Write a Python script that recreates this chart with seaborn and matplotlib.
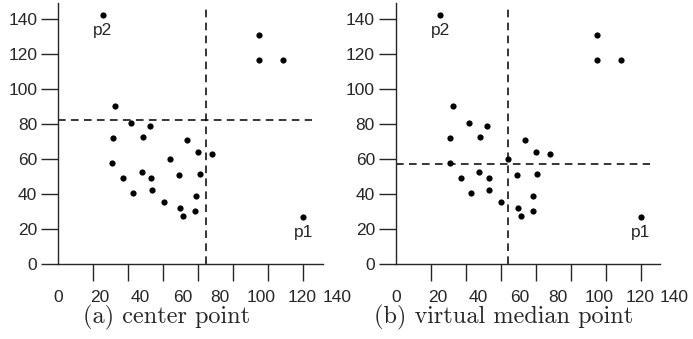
import numpy as np
import matplotlib
matplotlib.use("Agg")
import matplotlib.pyplot as plt
import seaborn as sns

# point cloud (same in both panels)
xs = [21.8, 98.9, 98.9, 110.7, 27.9, 35.8, 45.0, 26.8, 41.5, 63.5, 68.9, 75.6, 54.9, 26.6,
      32.0, 41.0, 45.7, 59.5, 69.6, 36.9, 45.9, 51.8, 67.6, 59.9, 61.3, 67.2, 120.5]
ys = [142.3, 130.9, 116.6, 116.6, 90.3, 80.4, 79.0, 71.8, 72.8, 70.9, 64.2, 62.7, 60.0, 57.5,
      49.3, 52.8, 49.0, 50.7, 51.6, 40.4, 42.3, 35.2, 39.0, 32.0, 27.2, 30.3, 26.9]

# named points
p_names = ["p1", "p2"]
p_x = [120.5, 21.8]
p_y = [26.9, 142.3]

# split lines: (a) center point, (b) virtual median point
split_x = [72.5, 54.9]
split_y = [82.3, 57.4]
captions = ["(a) center point", "(b) virtual median point"]

# axis labelling (as printed in the original figure)
yticks = [0, 20, 40, 60, 80, 100, 120, 140]
xtick_labels = ["0", "20", "40", "60", "80", "100", "120", "140"]
xtick_label_pos = [0, 20.5, 40.5, 61, 79.5, 100, 120, 137]
xtick_mark_pos = np.linspace(0, 120.5, 8)

sns.set_style("ticks")
plt.rcParams["font.family"] = ["Liberation Sans", "DejaVu Sans"]

fig = plt.figure(figsize=(6.93, 3.39), dpi=100)
lefts = [58.3, 396.0]
axes = [fig.add_axes([l / 693, 75 / 339, 140 * 2.033 / 693, 149 * 1.75 / 339]) for l in lefts]

for i, ax in enumerate(axes):
    ax.patch.set_alpha(0)
    sns.scatterplot(x=xs, y=ys, ax=ax, color="black", s=20, linewidth=0, zorder=3)
    ax.vlines(split_x[i], 0, 145.5, colors="black", linewidth=1.1, linestyles=(0, (5, 3.5)))
    ax.hlines(split_y[i], 0, 125, colors="black", linewidth=1.1, linestyles=(0, (5, 3.5)))
    for name, px, py in zip(p_names, p_x, p_y):
        ax.annotate(name, (px, py), xytext=(0, -11), textcoords="offset points",
                    ha="center", va="center", fontsize=12.5)
    ax.set_xlim(0, 140)
    ax.set_ylim(0, 149)
    sns.despine(ax=ax)
    ax.spines["bottom"].set_bounds(0, 130)
    ax.spines["left"].set_linewidth(1.0)
    ax.spines["bottom"].set_linewidth(1.0)
    ax.set_yticks(yticks)
    ax.tick_params(axis="y", length=12.2, width=1.0, pad=3, labelsize=12.5)
    ax.set_xticks(xtick_label_pos, xtick_labels)
    ax.set_xticks(xtick_mark_pos, minor=True)
    ax.tick_params(axis="x", which="major", length=0, pad=18.5, labelsize=12.5)
    ax.tick_params(axis="x", which="minor", length=12.2, width=1.0)

fig.text(166.5 / 693, 1 - 317 / 339, captions[0], family="cmr10", fontsize=17.5,
         ha="center", va="center")
fig.text(504 / 693, 1 - 317 / 339, captions[1], family="cmr10", fontsize=17.5,
         ha="center", va="center")

fig.savefig("out.png", dpi=100)
